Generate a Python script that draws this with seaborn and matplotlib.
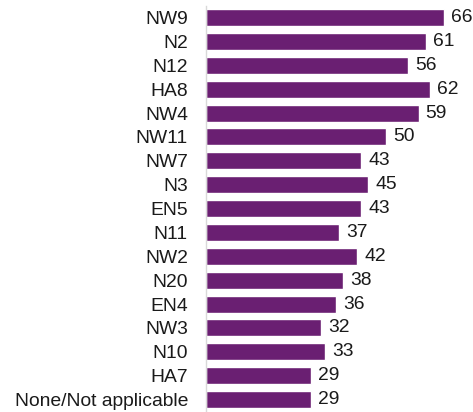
import seaborn as sns
import matplotlib.pyplot as plt
import pandas as pd

areas = ["NW9", "N2", "N12", "HA8", "NW4", "NW11", "NW7", "N3", "EN5", "N11",
         "NW2", "N20", "EN4", "NW3", "N10", "HA7", "None/Not applicable"]
values = [66, 61, 56, 62, 59, 50, 43, 45, 43, 37, 42, 38, 36, 32, 33, 29, 29]

df = pd.DataFrame({"area": areas, "value": values})

sns.set_style("white")
plt.rcParams['font.family'] = ['Liberation Sans', 'DejaVu Sans']

W, H = 473, 412
fig = plt.figure(figsize=(W / 100, H / 100), dpi=100)
ax = fig.add_axes([206 / W, 0.5 / H, (W - 206) / W, (H - 6.1) / H])

sns.barplot(data=df, x="value", y="area", color="#6A1F72", width=0.71,
            saturation=1, ax=ax, orient="h")

for i, v in enumerate(values):
    ax.annotate(str(v), (v, i), xytext=(5, 0), textcoords="offset points",
                va="center", ha="left", fontsize=13.9, color="#1a1a1a")

ax.set_xlim(0, (W - 206) / 3.606)
ax.set_ylim(16.5, -0.5)
ax.set_xlabel("")
ax.set_ylabel("")
ax.set_xticks([])
ax.tick_params(axis="y", length=0, pad=13, labelsize=13.9, labelcolor="#1a1a1a")
for s in ["top", "right", "bottom"]:
    ax.spines[s].set_visible(False)
ax.spines["left"].set_color("#d9d9d9")
ax.spines["left"].set_linewidth(1)

fig.savefig("out.png", dpi=100)
